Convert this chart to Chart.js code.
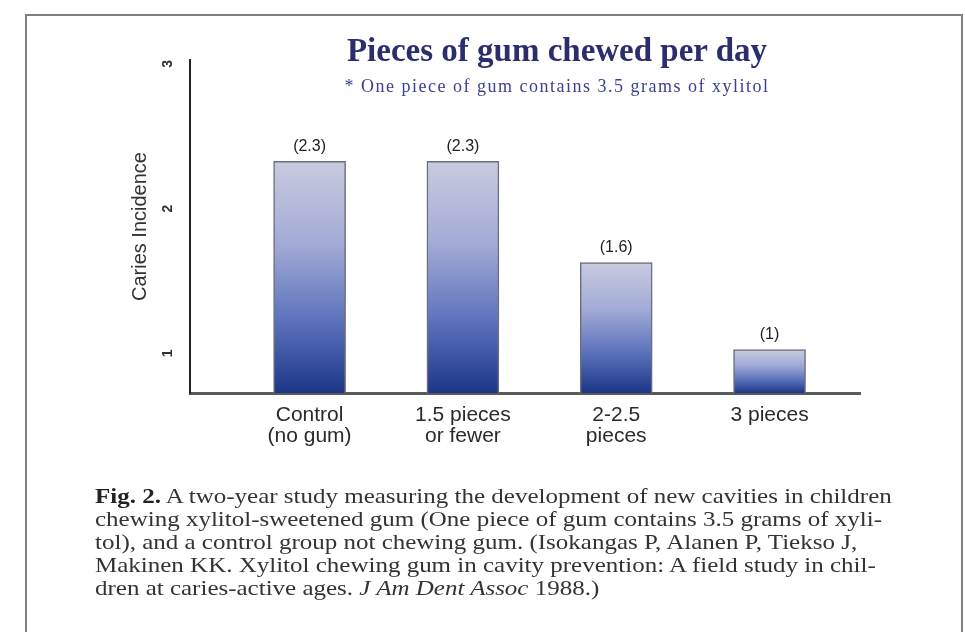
<!DOCTYPE html>
<html>
<head>
<meta charset="utf-8">
<script src="https://cdn.jsdelivr.net/npm/chart.js@4.4.1/dist/chart.umd.min.js"></script>
<style>
  html, body { margin: 0; padding: 0; background: #ffffff; width: 965px; height: 632px; overflow: hidden; position: relative; }
  #frame { position: absolute; left: 25px; top: 14px; width: 938px; height: 660px; border: 2px solid #808080; box-sizing: border-box; }
  #chartWrap { position: absolute; left: 0; top: 0; width: 965px; height: 632px; }
  #title { position: absolute; left: 257px; width: 600px; top: 32px; text-align: center;
           font: bold 33px "Liberation Serif", "Times New Roman", serif; color: #2b2e6c; line-height: 36px; }
  #subtitle { position: absolute; left: 257px; width: 600px; top: 76px; text-align: center;
              font: 18px "Liberation Serif", "Times New Roman", serif; color: #3b4190; line-height: 20px; letter-spacing: 1.5px; }
  #caption { position: absolute; left: 95px; top: 485px;
             font: 21px "Liberation Serif", "Times New Roman", serif; color: #333; line-height: 23px; white-space: nowrap;
             transform: scaleX(1.19); transform-origin: 0 0; }
  #caption b { color: #222; }
</style>
</head>
<body>
<div id="frame"></div>
<div id="chartWrap"><canvas id="c" width="965" height="632"></canvas></div>
<div id="title">Pieces of gum chewed per day</div>
<div id="subtitle">* One piece of gum contains 3.5 grams of xylitol</div>
<div id="caption"><b>Fig. 2.</b> A two-year study measuring the development of new cavities in children<br>chewing xylitol-sweetened gum (One piece of gum contains 3.5 grams of xyli-<br>tol), and a control group not chewing gum. (Isokangas P, Alanen P, Tiekso J,<br>Makinen KK. Xylitol chewing gum in cavity prevention: A field study in chil-<br>dren at caries-active ages. <i>J Am Dent Assoc</i> 1988.)</div>
<script>
// Groups on the x axis (one entry per bar, each split into its display lines)
const categories = [
  ['Control', '(no gum)'],
  ['1.5 pieces', 'or fewer'],
  ['2-2.5', 'pieces'],
  ['3 pieces']
];
// Caries incidence for each group
const cariesIncidence = [2.3, 2.3, 1.6, 1];
// Labelled values on the y axis
const yTicks = [1, 2, 3];

const barData = categories.map((c, i) => ({ x: i, y: cariesIncidence[i] }));

// Vertical shade for each bar: pale lilac at the top to deep navy at the base
function barGradient(ctx) {
  const chart = ctx.chart;
  const area = chart.chartArea;
  if (!area || ctx.type !== 'data') return '#5b6db5';
  const yScale = chart.scales.y;
  const top = yScale.getPixelForValue(ctx.raw.y);
  const bottom = yScale.getPixelForValue(yScale.min);
  const g = chart.ctx.createLinearGradient(0, top, 0, bottom);
  g.addColorStop(0, '#c9cadf');
  g.addColorStop(0.35, '#a3acd6');
  g.addColorStop(0.7, '#5a70bb');
  g.addColorStop(1, '#1c3586');
  return g;
}

// Writes "(value)" above each bar
const valueLabels = {
  id: 'valueLabels',
  afterDatasetsDraw(chart) {
    const ctx = chart.ctx;
    const meta = chart.getDatasetMeta(0);
    ctx.save();
    ctx.font = '16px "Liberation Sans", Arial, sans-serif';
    ctx.fillStyle = '#222';
    ctx.textAlign = 'center';
    ctx.textBaseline = 'bottom';
    meta.data.forEach((bar, i) => {
      ctx.fillText('(' + cariesIncidence[i] + ')', bar.x, bar.y - 7);
    });
    ctx.restore();
  }
};

new Chart(document.getElementById('c'), {
  type: 'bar',
  data: {
    datasets: [{
      data: barData,
      backgroundColor: barGradient,
      borderColor: '#6b6d7e',
      borderWidth: 1.5,
      borderSkipped: 'bottom',
      barThickness: 72
    }]
  },
  options: {
    responsive: false,
    animation: false,
    events: [],
    layout: { padding: { left: 120, right: 105, top: 60, bottom: 0 } },
    plugins: { legend: { display: false }, tooltip: { enabled: false } },
    scales: {
      x: {
        type: 'linear',
        offset: false,
        min: -0.78,
        max: 3.59,
        afterBuildTicks: (scale) => { scale.ticks = categories.map((c, i) => ({ value: i })); },
        afterFit: (scale) => { scale.height = 239; },
        grid: { display: false, offset: false },
        border: { display: true, color: '#5a5a5a', width: 3 },
        ticks: {
          autoSkip: false,
          maxRotation: 0,
          padding: 3,
          color: '#2a2a2a',
          font: { family: '"Liberation Sans", Arial, sans-serif', size: 21, lineHeight: 1.02 },
          callback: (v) => categories[v]
        }
      },
      y: {
        min: 0.7,
        max: 3,
        afterBuildTicks: (scale) => { scale.ticks = yTicks.map(v => ({ value: v })); },
        afterFit: (scale) => { scale.width = 70; },
        grid: { display: false },
        border: { display: true, color: '#222', width: 2 },
        title: {
          display: true,
          text: 'Caries Incidence',
          color: '#333',
          font: { family: '"Liberation Sans", Arial, sans-serif', size: 20 },
          padding: { top: 8, bottom: 0 }
        },
        ticks: {
          minRotation: 90,
          maxRotation: 90,
          padding: 14,
          color: '#333',
          font: { family: '"Liberation Sans", Arial, sans-serif', size: 14, weight: 'bold' }
        }
      }
    }
  },
  plugins: [valueLabels]
});
</script>
</body>
</html>
